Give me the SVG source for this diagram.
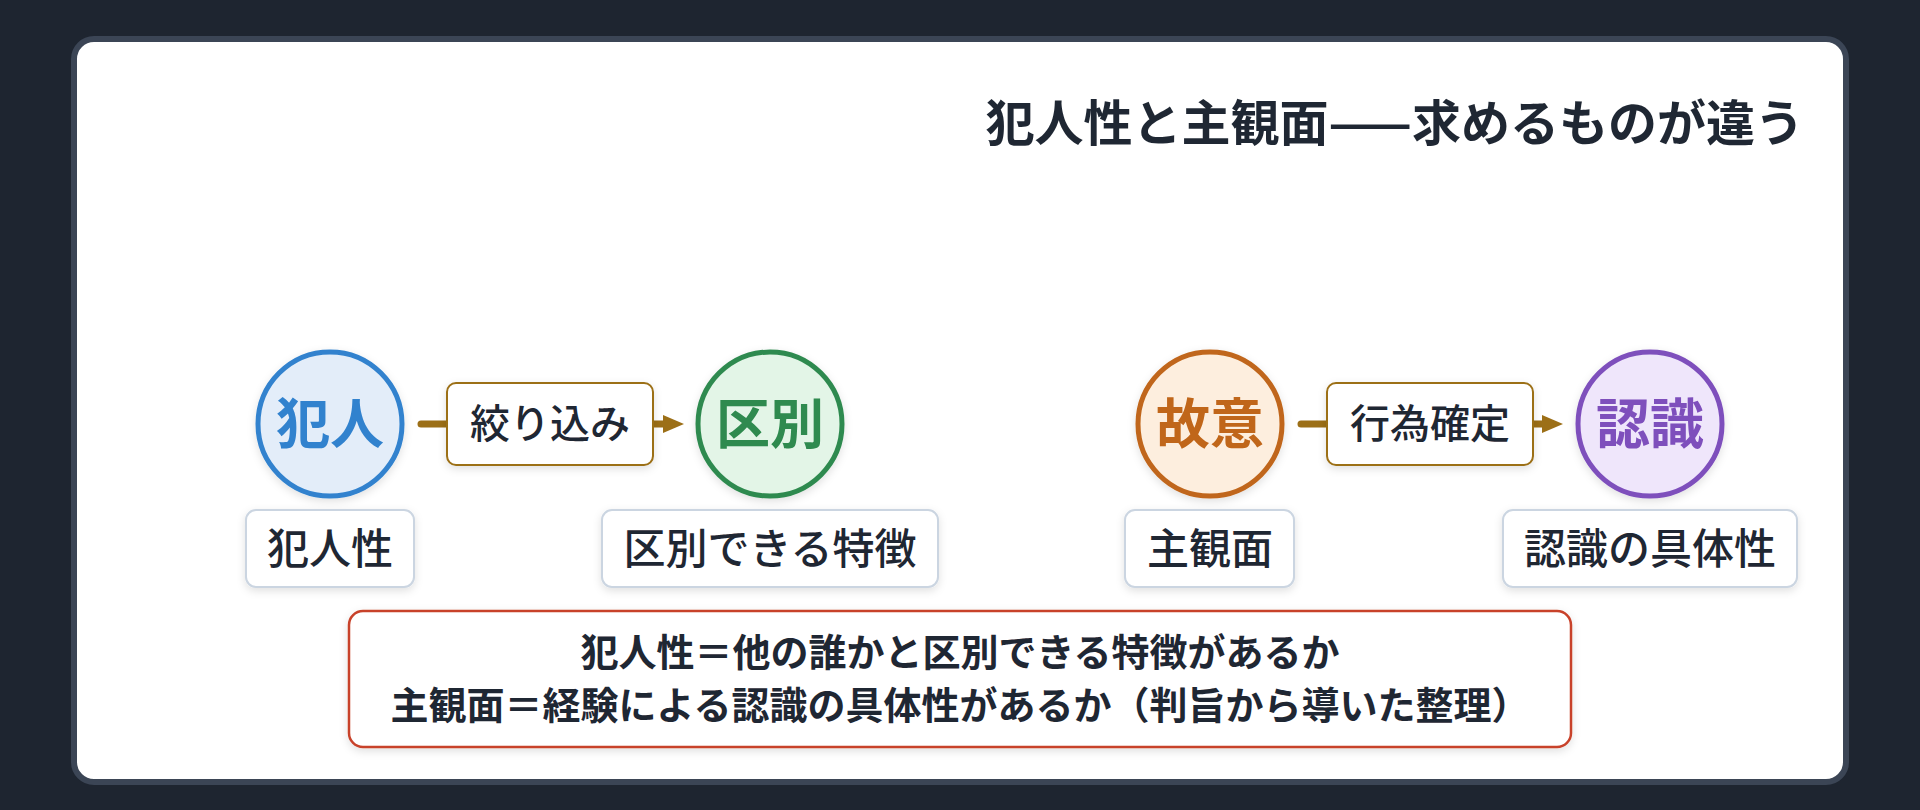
<svg xmlns="http://www.w3.org/2000/svg" width="1920" height="810" viewBox="0 0 1920 810">
<defs>
<style>
text{font-family:"Noto Sans CJK JP","Noto Sans CJK SC",sans-serif;fill:#1f2733;}
.title{font-size:49px;font-weight:700;}
.ctext{font-size:54px;font-weight:700;text-anchor:middle;}
.lbl{font-size:40px;font-weight:500;text-anchor:middle;}
.sub{font-size:42px;font-weight:500;text-anchor:middle;}
.note{font-size:38px;font-weight:700;text-anchor:middle;}
.lblbox{fill:#ffffff;stroke:#9c6f17;stroke-width:2;}
.subbox{fill:#ffffff;stroke:#cbd5e1;stroke-width:2;}
.conn{stroke:#9c6f17;stroke-width:7;stroke-linecap:round;fill:none;}
</style>
<filter id="sh" x="-20%" y="-20%" width="140%" height="150%">
<feDropShadow dx="0" dy="3" stdDeviation="4" flood-color="#000000" flood-opacity="0.12"/>
</filter>
<marker id="arr" markerUnits="userSpaceOnUse" markerWidth="22" markerHeight="18" refX="0" refY="9" orient="auto">
<path d="M0,0 L21,9 L0,18 Z" fill="#9c6f17"/>
</marker>
</defs>
<rect x="0" y="0" width="1920" height="810" fill="#1e2530"/>
<rect id="card" x="74" y="39" width="1772" height="743" rx="20" fill="#ffffff" stroke="#3b4555" stroke-width="6"/>
<text class="title" x="1804" y="141" text-anchor="end">犯人性と主観面——求めるものが違う</text>

<g id="connectors">
<path class="conn" d="M421,424 H663" marker-end="url(#arr)"/>
<path class="conn" d="M1301,424 H1542" marker-end="url(#arr)"/>
</g>

<g id="node-hannin">
<circle cx="330" cy="424" r="72" fill="#e3edf9" stroke="#3182ce" stroke-width="5" filter="url(#sh)"/>
<text class="ctext" x="330" y="444" style="fill:#3182ce">犯人</text>
</g>
<g id="label-shiborikomi">
<rect class="lblbox" x="447" y="383" width="206" height="82" rx="9" filter="url(#sh)"/>
<text class="lbl" x="550" y="438">絞り込み</text>
</g>
<g id="node-kubetsu">
<circle cx="770" cy="424" r="72" fill="#e3f5e7" stroke="#2f8a4f" stroke-width="5" filter="url(#sh)"/>
<text class="ctext" x="770" y="444" style="fill:#2f8a4f">区別</text>
</g>
<g id="node-koi">
<circle cx="1210" cy="424" r="72" fill="#fdeede" stroke="#c0661a" stroke-width="5" filter="url(#sh)"/>
<text class="ctext" x="1210" y="444" style="fill:#c0661a">故意</text>
</g>
<g id="label-koikakutei">
<rect class="lblbox" x="1327" y="383" width="206" height="82" rx="9" filter="url(#sh)"/>
<text class="lbl" x="1430" y="438">行為確定</text>
</g>
<g id="node-ninshiki">
<circle cx="1650" cy="424" r="72" fill="#efe6fb" stroke="#7e4fbc" stroke-width="5" filter="url(#sh)"/>
<text class="ctext" x="1650" y="444" style="fill:#7e4fbc">認識</text>
</g>

<g id="sub-hanninsei">
<rect class="subbox" x="246" y="510" width="168" height="77" rx="10" filter="url(#sh)"/>
<text class="sub" x="330" y="564">犯人性</text>
</g>
<g id="sub-kubetsu">
<rect class="subbox" x="602" y="510" width="336" height="77" rx="10" filter="url(#sh)"/>
<text class="sub" x="770" y="564">区別できる特徴</text>
</g>
<g id="sub-shukanmen">
<rect class="subbox" x="1125" y="510" width="169" height="77" rx="10" filter="url(#sh)"/>
<text class="sub" x="1210" y="564">主観面</text>
</g>
<g id="sub-ninshiki">
<rect class="subbox" x="1503" y="510" width="294" height="77" rx="10" filter="url(#sh)"/>
<text class="sub" x="1650" y="564">認識の具体性</text>
</g>

<g id="note">
<rect x="349" y="611" width="1222" height="136" rx="14" fill="#ffffff" stroke="#c8432b" stroke-width="2.5" filter="url(#sh)"/>
<text class="note" x="960" y="666">犯人性＝他の誰かと区別できる特徴があるか</text>
<text class="note" x="960" y="719">主観面＝経験による認識の具体性があるか（判旨から導いた整理）</text>
</g>
</svg>
